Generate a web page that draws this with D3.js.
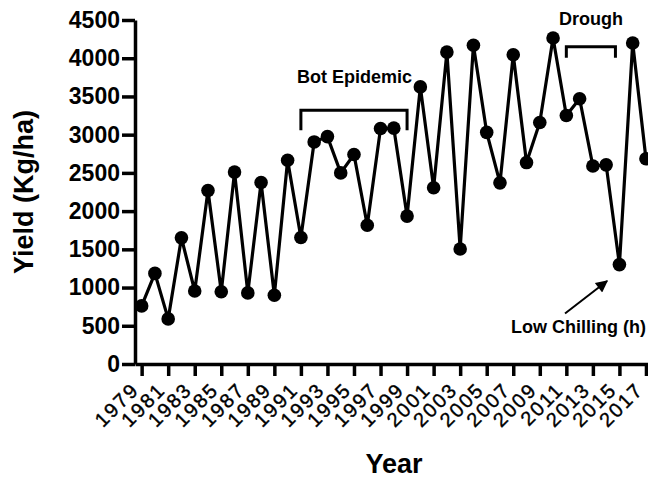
<!DOCTYPE html>
<html>
<head>
<meta charset="utf-8">
<script src="https://cdn.jsdelivr.net/npm/d3@7"></script>
<style>
  body { margin: 0; background: #fff; }
  text { font-family: "Liberation Sans", Arial, sans-serif; fill: #000; }
</style>
</head>
<body>
<div id="chart"></div>
<script>
// Yield by year
const years = [1979, 1980, 1981, 1982, 1983, 1984, 1985, 1986, 1987, 1988, 1989, 1990, 1991,
  1992, 1993, 1994, 1995, 1996, 1997, 1998, 1999, 2000, 2001, 2002, 2003, 2004, 2005, 2006,
  2007, 2008, 2009, 2010, 2011, 2012, 2013, 2014, 2015, 2016, 2017];
const yields = [760, 1185, 590, 1650, 955, 2270, 945, 2510, 930, 2375, 900, 2665, 1655,
  2905, 2975, 2500, 2740, 1815, 3080, 3085, 1935, 3625, 2305, 4080, 1505, 4170, 3030, 2370,
  4045, 2635, 3160, 4265, 3250, 3470, 2590, 2605, 1300, 4200, 2685];
const xTicks = [1979, 1981, 1983, 1985, 1987, 1989, 1991, 1993, 1995, 1997, 1999, 2001,
  2003, 2005, 2007, 2009, 2011, 2013, 2015, 2017];
const yTicks = [0, 500, 1000, 1500, 2000, 2500, 3000, 3500, 4000, 4500];

// annotations: brackets [from, to, value, leg px] and labels [year, value, text]
const brackets = [[1991, 1999, 3320, 20], [2011, 2014.7, 4150, 11]];
const labels = [[1990.7, 3676, "Bot Epidemic"], [2010.45, 4435, "Drough"], [2006.83, 405, "Low Chilling (h)"]];
const arrow = [[2010.9, 660], [2014.07, 1085]];

const width = 648;
const height = 479;
const margin = { top: 20, left: 135, bottom: 115 };

const svg = d3.select("#chart")
  .append("svg")
  .attr("width", width)
  .attr("height", height);

const x = d3.scaleLinear().domain([1978.5, 2017.5]).range([margin.left, 652.6]);
const y = d3.scaleLinear().domain([0, 4500]).range([height - margin.bottom, margin.top]);

svg.append("defs").append("marker")
  .attr("id", "head")
  .attr("viewBox", "0 0 10 10")
  .attr("refX", 9).attr("refY", 5)
  .attr("markerWidth", 7).attr("markerHeight", 6)
  .attr("orient", "auto")
  .append("path")
  .attr("d", "M0,0L10,5L0,10z")
  .attr("fill", "#000");

// y axis
const yAxis = svg.append("g")
  .attr("transform", `translate(${margin.left},0)`)
  .call(d3.axisLeft(y).tickValues(yTicks).tickFormat(d3.format("d")).tickSize(13).tickPadding(2).tickSizeOuter(0));
yAxis.select(".domain").attr("stroke-width", 3.5);
yAxis.selectAll(".tick line").attr("stroke-width", 3.5);
yAxis.selectAll(".tick text")
  .attr("font-size", 23)
  .attr("font-weight", "bold")
  .attr("font-family", "'Liberation Sans', Arial, sans-serif")
  .attr("fill", "#000");

// x axis
const xAxis = svg.append("g")
  .attr("transform", `translate(0,${y(0)})`)
  .call(d3.axisBottom(x).tickValues(xTicks).tickFormat(d3.format("d")).tickSize(12).tickSizeOuter(0));
xAxis.select(".domain").attr("stroke-width", 3.5);
xAxis.selectAll(".tick line").attr("stroke-width", 3.5);
xAxis.selectAll(".tick text")
  .attr("font-size", 20)
  .attr("letter-spacing", "2px")
  .attr("font-family", "'Liberation Sans', Arial, sans-serif")
  .attr("fill", "#000")
  .attr("stroke", "#000")
  .attr("stroke-width", 0.4)
  .attr("text-anchor", "end")
  .attr("y", 0)
  .attr("dy", "0.71em")
  .attr("transform", "translate(-12,17) rotate(-45)");

// axis titles
svg.append("text")
  .attr("transform", `translate(33,${(y(0) + y(4500)) / 2}) rotate(-90)`)
  .attr("text-anchor", "middle")
  .attr("font-size", 27)
  .attr("font-weight", "bold")
  .text("Yield (Kg/ha)");

svg.append("text")
  .attr("x", 394)
  .attr("y", 473)
  .attr("text-anchor", "middle")
  .attr("font-size", 27)
  .attr("font-weight", "bold")
  .text("Year");

// line and points
const line = d3.line()
  .x((d, i) => x(years[i]))
  .y(d => y(d));

svg.append("path")
  .datum(yields)
  .attr("d", line)
  .attr("fill", "none")
  .attr("stroke", "#000")
  .attr("stroke-width", 3.2)
  .attr("stroke-linejoin", "miter");

svg.selectAll(".dot")
  .data(yields)
  .join("circle")
  .attr("class", "dot")
  .attr("cx", (d, i) => x(years[i]))
  .attr("cy", d => y(d))
  .attr("r", 6.8)
  .attr("fill", "#000");

// annotations
svg.selectAll(".bracket")
  .data(brackets)
  .join("path")
  .attr("class", "bracket")
  .attr("d", d => `M${x(d[0])},${y(d[2]) + d[3]}V${y(d[2])}H${x(d[1])}V${y(d[2]) + d[3]}`)
  .attr("fill", "none")
  .attr("stroke", "#000")
  .attr("stroke-width", 3);

svg.selectAll(".note")
  .data(labels)
  .join("text")
  .attr("class", "note")
  .attr("x", d => x(d[0]))
  .attr("y", d => y(d[1]))
  .attr("font-size", 18)
  .attr("font-weight", "bold")
  .text(d => d[2]);

svg.append("line")
  .attr("x1", x(arrow[0][0]))
  .attr("y1", y(arrow[0][1]))
  .attr("x2", x(arrow[1][0]))
  .attr("y2", y(arrow[1][1]))
  .attr("stroke", "#000")
  .attr("stroke-width", 2)
  .attr("marker-end", "url(#head)");
</script>
</body>
</html>
